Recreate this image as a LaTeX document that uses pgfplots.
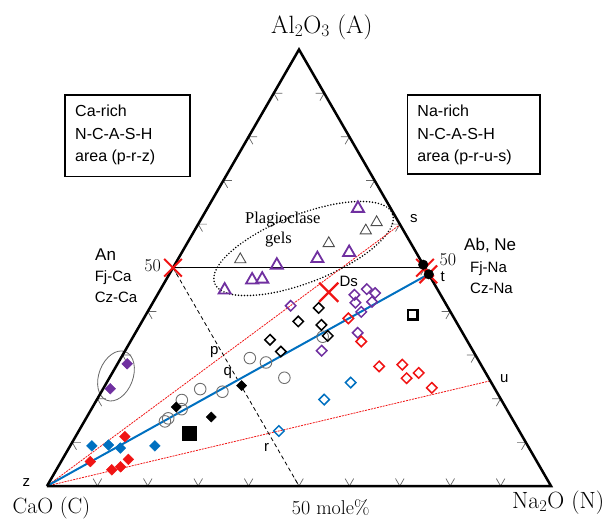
\documentclass[border=0pt]{standalone}
\usepackage{fontspec}
\usepackage{pgfplots}
\pgfplotsset{compat=1.18}
\usepackage{pgfplotstable}
\usetikzlibrary{shapes.geometric}
\newfontfamily\arial{Liberation Sans}
\newfontfamily\timesr{Liberation Serif}
\definecolor{cpurple}{HTML}{7030A0}
\definecolor{cred}{HTML}{F01414}
\definecolor{cblue}{HTML}{0070C0}
\definecolor{cgray}{HTML}{6E6E6E}
\newcommand\TX{\thisrow{N}/100+\thisrow{A}/200}
\newcommand\TY{0.8660254*\thisrow{A}/100}
\newcommand\fs[1]{\fontsize{#1}{#1}\selectfont}

% ternary data: N = Na2O mole%, A = Al2O3 mole%
\pgfplotstableread{
N A
1.9 28.0
1.4 22.3
}\purpleFilled
\pgfplotstableread{
N A
9.8 11.3
5.8 5.6
11.0 3.7
12.4 4.4
13.1 6.1
}\redFilled
\pgfplotstableread{
N A
4.3 9.2
7.5 9.4
10.2 8.7
16.8 9.2
}\blueFilled
\pgfplotstableread{
N A
16.6 18.1
24.7 15.8
27.1 23.0
}\blackFilled
\pgfplotstableread{
N A
22.2 12.1
}\bigSquare
\pgfplotstableread{
N A
16.0 14.8
16.3 15.5
16.9 19.7
17.9 17.6
19.3 22.2
24.0 21.6
25.6 29.3
29.3 28.3
34.7 24.8
37.6 34.2
}\grayCircles
\pgfplotstableread{
N A
33.5 40.8
31.0 37.7
36.0 36.9
38.5 34.4
27.5 33.5
31.0 30.8
}\blackOpen
\pgfplotstableread{
N A
27.7 41.3
39.1 43.8
40.9 45.1
43.0 44.2
40.2 42.0
43.4 42.2
42.4 39.9
44.1 35.1
39.0 31.0
}\purpleOpen
\pgfplotstableread{
N A
40.6 38.4
45.8 33.1
52.2 27.4
56.6 27.8
59.0 24.7
60.8 25.9
65.1 22.5
}\redOpen
\pgfplotstableread{
N A
48.4 23.7
45.1 19.8
39.7 12.6
}\blueOpen
\pgfplotstableread{
N A
53.0 39.2
}\openSquare
\pgfplotstableread{
N A
29.9 63.6
33.2 53.5
27.6 52.1
20.3 50.6
17.1 47.2
19.0 47.4
12.8 44.9
}\purpleTri
\pgfplotstableread{
N A
12.4 51.9
28.1 55.6
34.0 58.5
35.2 60.4
}\grayTri
\pgfplotstableread{
N A
0 50
50 50
51.4 48.5
}\redX
\pgfplotstableread{
N A
33.7 44.4
}\dsX
\pgfplotstableread{
N A
49.3 50.7
51.5 48.5
}\blackDots
\pgfplotstableread{
N A
0 0
100 0
0 100
0 0
}\frameT

\begin{document}
\begin{tikzpicture}
\begin{axis}[
  width=612pt, height=519pt, scale only axis,
  xmin=-0.09325, xmax=1.12103, ymin=-0.06548, ymax=0.96429,
  hide axis, clip=false,
]
\path (rel axis cs:0,0) rectangle (rel axis cs:1,1);

% ticks
\pgfplotsinvokeforeach{1,...,9}{
  \draw[black!60, line width=0.7pt] (axis cs:{#1/10-0.0085},0.01472) -- (axis cs:{#1/10},0) -- (axis cs:{#1/10+0.0085},0.01472);
  \draw[black!60, line width=0.7pt] (axis cs:{#1/20+0.017},{0.0866025*#1}) -- (axis cs:{#1/20},{0.0866025*#1}) -- (axis cs:{#1/20+0.0085},{0.0866025*#1-0.01472});
  \draw[black!60, line width=0.7pt] (axis cs:{1-#1/20-0.017},{0.0866025*#1}) -- (axis cs:{1-#1/20},{0.0866025*#1}) -- (axis cs:{1-#1/20-0.0085},{0.0866025*#1-0.01472});
}

% ellipses
\node[draw=black!60, line width=0.8pt, ellipse, minimum width=52pt, minimum height=34pt, inner sep=0pt, rotate=69] at (axis cs:0.1369,0.2183) {};
\node[draw=black, line width=1.7pt, dash pattern=on 0pt off 3pt, line cap=round, ellipse, minimum width=191pt, minimum height=68pt, inner sep=0pt, rotate=21.4] at (axis cs:0.509,0.4712) {};

% guide lines
\addplot[cred, line width=0.8pt, dash pattern=on 2pt off 1pt] table[x expr=\TX, y expr=\TY] {
N A
0 0
40.1 59.9
};
\addplot[cred, line width=0.8pt, dash pattern=on 2pt off 1pt] table[x expr=\TX, y expr=\TY] {
N A
0 0
75.9 24.1
};
\addplot[black, line width=0.8pt, dash pattern=on 4pt off 3pt] table[x expr=\TX, y expr=\TY] {
N A
0 50
50 0
};
\addplot[black, line width=1.3pt] table[x expr=\TX, y expr=\TY] {
N A
0 50
50 50
};

% markers
\addplot[only marks, mark=o, mark size=5.8pt, mark options={draw=cgray, line width=0.9pt}] table[x expr=\TX, y expr=\TY] {\grayCircles};
\addplot[only marks, mark=square*, mark size=3.8pt, mark options={rotate=45, draw=cpurple, fill=cpurple}] table[x expr=\TX, y expr=\TY] {\purpleFilled};
\addplot[only marks, mark=square*, mark size=3.8pt, mark options={rotate=45, draw=cred, fill=cred}] table[x expr=\TX, y expr=\TY] {\redFilled};
\addplot[only marks, mark=square*, mark size=3.8pt, mark options={rotate=45, draw=cblue, fill=cblue}] table[x expr=\TX, y expr=\TY] {\blueFilled};
\addplot[only marks, mark=square*, mark size=3.6pt, mark options={rotate=45, draw=black, fill=black}] table[x expr=\TX, y expr=\TY] {\blackFilled};
\addplot[only marks, mark=square*, mark size=7.2pt, mark options={draw=black, fill=black}] table[x expr=\TX, y expr=\TY] {\bigSquare};
\addplot[only marks, mark=square, mark size=3.7pt, mark options={rotate=45, draw=black, line width=1.5pt}] table[x expr=\TX, y expr=\TY] {\blackOpen};
\addplot[only marks, mark=square, mark size=3.7pt, mark options={rotate=45, draw=cpurple, line width=1.5pt}] table[x expr=\TX, y expr=\TY] {\purpleOpen};
\addplot[only marks, mark=square, mark size=3.7pt, mark options={rotate=45, draw=cred, line width=1.5pt}] table[x expr=\TX, y expr=\TY] {\redOpen};
\addplot[only marks, mark=square, mark size=3.7pt, mark options={rotate=45, draw=cblue, line width=1.5pt}] table[x expr=\TX, y expr=\TY] {\blueOpen};
\addplot[only marks, mark=square, mark size=4.7pt, mark options={draw=black, line width=2.4pt}] table[x expr=\TX, y expr=\TY] {\openSquare};
\addplot[only marks, mark=triangle, mark size=7pt, mark options={draw=cpurple, line width=1.8pt}] table[x expr=\TX, y expr=\TY] {\purpleTri};
\addplot[only marks, mark=triangle, mark size=6.5pt, mark options={draw=black!70, line width=0.9pt}] table[x expr=\TX, y expr=\TY] {\grayTri};

% main line
\addplot[cblue, line width=2pt] table[x expr=\TX, y expr=\TY] {
N A
0 0
51.4 48.5
};

\addplot[only marks, mark=x, mark size=12.5pt, mark options={draw=cred, line width=2pt}] table[x expr=\TX, y expr=\TY] {\redX};
\addplot[only marks, mark=x, mark size=13.5pt, mark options={draw=cred, line width=2.2pt}] table[x expr=\TX, y expr=\TY] {\dsX};
\addplot[only marks, mark=*, mark size=4.8pt, mark options={draw=black, fill=black}] table[x expr=\TX, y expr=\TY] {\blackDots};

% triangle frame
\addplot[black, line width=2.5pt, line join=miter] table[x expr=\TX, y expr=\TY] {\frameT};

% boxes
\draw[black, line width=1.4pt] (axis cs:0.0357,0.7758) rectangle (axis cs:0.2837,0.6137);
\draw[black, line width=1.4pt] (axis cs:0.7149,0.7758) rectangle (axis cs:0.9782,0.6190);

% texts
\node[anchor=base west, inner sep=0pt] at (axis cs:0.4444,0.8988) {\fs{25}Al\textsubscript{2}O\textsubscript{3} (A)};
\node[anchor=base west, inner sep=0pt] at (axis cs:-0.0685,-0.0546) {\fs{22}CaO (C)};
\node[anchor=base west, inner sep=0pt] at (axis cs:0.9226,-0.0437) {\fs{23.5}Na\textsubscript{2}O (N)};
\node[anchor=base west, inner sep=0pt] at (axis cs:0.4855,-0.0575) {\fs{20}50 mole\%};
\node[anchor=base east, inner sep=0pt] at (axis cs:0.2262,0.4256) {\fs{18}50};
\node[anchor=base west, inner sep=0pt] at (axis cs:0.7788,0.4371) {\fs{18}50};

\node[anchor=base west, inner sep=0pt] at (axis cs:-0.0486,-0.001) {\arial\fs{15}z};
\node[anchor=base west, inner sep=0pt] at (axis cs:0.7808,0.4060) {\arial\fs{15}t};
\node[anchor=base west, inner sep=0pt] at (axis cs:0.7202,0.5224) {\arial\fs{15}s};
\node[anchor=base west, inner sep=0pt] at (axis cs:0.8988,0.2044) {\arial\fs{15}u};
\node[anchor=base west, inner sep=0pt] at (axis cs:0.3234,0.2619) {\arial\fs{15}p};
\node[anchor=base west, inner sep=0pt] at (axis cs:0.3498,0.2202) {\arial\fs{15}q};
\node[anchor=base west, inner sep=0pt] at (axis cs:0.4306,0.0681) {\arial\fs{15}r};
\node[anchor=base west, inner sep=0pt] at (axis cs:0.58,0.3968) {\arial\fs{15}Ds};

\node[anchor=base west, inner sep=0pt] at (axis cs:0.0952,0.4484) {\arial\fs{17}An};
\node[anchor=base west, inner sep=0pt] at (axis cs:0.0944,0.4067) {\arial\fs{15}Fj-Ca};
\node[anchor=base west, inner sep=0pt] at (axis cs:0.0944,0.3631) {\arial\fs{15}Cz-Ca};
\node[anchor=base west, inner sep=0pt] at (axis cs:0.8274,0.4669) {\arial\fs{17}Ab, Ne};
\node[anchor=base west, inner sep=0pt] at (axis cs:0.8393,0.4246) {\arial\fs{15}Fj-Na};
\node[anchor=base west, inner sep=0pt] at (axis cs:0.8393,0.3823) {\arial\fs{15}Cz-Na};

\node[anchor=base west, inner sep=0pt] at (axis cs:0.0556,0.7327) {\arial\fs{16}Ca-rich};
\node[anchor=base west, inner sep=0pt] at (axis cs:0.0556,0.6879) {\arial\fs{16}N-C-A-S-H};
\node[anchor=base west, inner sep=0pt] at (axis cs:0.0556,0.6448) {\arial\fs{16}area (p-r-z)};
\node[anchor=base west, inner sep=0pt] at (axis cs:0.7347,0.7327) {\arial\fs{16}Na-rich};
\node[anchor=base west, inner sep=0pt] at (axis cs:0.7347,0.6879) {\arial\fs{16}N-C-A-S-H};
\node[anchor=base west, inner sep=0pt] at (axis cs:0.7347,0.6448) {\arial\fs{16}area (p-r-u-s)};

\node[anchor=base west, inner sep=0pt] at (axis cs:0.3929,0.5208) {\timesr\fs{16.5}Plagioclase};
\node[anchor=base west, inner sep=0pt] at (axis cs:0.4325,0.4821) {\timesr\fs{16.5}gels};
\end{axis}
\end{tikzpicture}
\end{document}
